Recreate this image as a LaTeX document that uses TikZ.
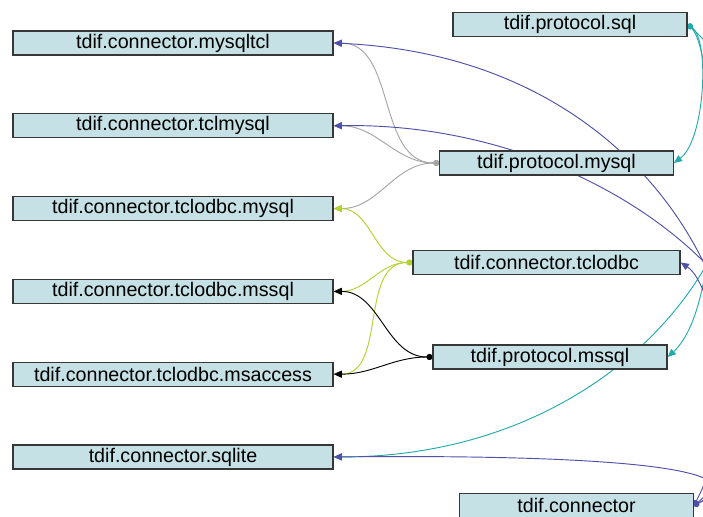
\documentclass[tikz,border=0pt]{standalone}
\usepackage{fontspec}
\setmainfont{Liberation Sans}
\usetikzlibrary{arrows.meta,positioning}

\definecolor{boxfill}{RGB}{197,225,229}
\definecolor{boxline}{RGB}{55,55,55}
\definecolor{edgegray}{RGB}{165,165,165}
\definecolor{edgegreen}{RGB}{180,210,45}
\definecolor{edgeteal}{RGB}{35,170,170}
\definecolor{edgeblue}{RGB}{80,80,170}

\pgfdeclarelayer{background}
\pgfsetlayers{background,main}

\begin{document}
\begin{tikzpicture}[
    x=0.03cm, y=-0.03cm,
    node distance=1.725cm,
    every node/.style={font=\fontsize{16.8}{20}\selectfont},
    box/.style={rectangle, draw=boxline, fill=boxfill, line width=1.1pt, minimum height=0.72cm, inner sep=2pt, text centered},
    leftbox/.style={box, minimum width=9.6cm},
    dep/.style={{Circle[length=5pt]}-{Triangle[length=7pt,width=6pt]}, line width=0.8pt},
    grayedge/.style={dep, color=edgegray},
    greenedge/.style={dep, color=edgegreen},
    blackedge/.style={dep, color=black},
    tealedge/.style={dep, color=edgeteal},
    blueedge/.style={dep, color=edgeblue}
]
\useasboundingbox (0,0) rectangle (703,517);

% Connectors (left)
\node[leftbox] at (173,43) (conn-mysqltcl) {tdif.connector.mysqltcl};
\node[leftbox, below=of conn-mysqltcl] (conn-tclmysql) {tdif.connector.tclmysql};
\node[leftbox, below=of conn-tclmysql] (conn-tclodbc-mysql) {tdif.connector.tclodbc.mysql};
\node[leftbox, below=of conn-tclodbc-mysql] (conn-tclodbc-mssql) {tdif.connector.tclodbc.mssql};
\node[leftbox, below=of conn-tclodbc-mssql] (conn-tclodbc-msaccess) {tdif.connector.tclodbc.msaccess};
\node[leftbox, below=of conn-tclodbc-msaccess] (conn-sqlite) {tdif.connector.sqlite};

% Protocols and base classes (right)
\node[box, minimum width=7.02cm] at (570,24.5) (proto-sql) {tdif.protocol.sql};
\node[box, minimum width=7cm] at (556.5,163) (proto-mysql) {tdif.protocol.mysql};
\node[box, minimum width=8.01cm] at (546.5,262.5) (conn-tclodbc) {tdif.connector.tclodbc};
\node[box, minimum width=7.02cm] at (550,357) (proto-mssql) {tdif.protocol.mssql};
\node[box, minimum width=7cm] at (576.5,505.5) (connector) {tdif.connector};

\begin{pgfonlayer}{background}
% mysql protocol
\draw[grayedge] (proto-mysql.west) to[out=180, in=0] (conn-mysqltcl.east);
\draw[grayedge] (proto-mysql.west) to[out=180, in=0] (conn-tclmysql.east);
\draw[grayedge] (proto-mysql.west) to[out=180, in=0] (conn-tclodbc-mysql.east);

% tclodbc
\draw[greenedge] (conn-tclodbc.west) to[out=180, in=0] (conn-tclodbc-mysql.east);
\draw[greenedge] (conn-tclodbc.west) to[out=180, in=0] (conn-tclodbc-mssql.east);
\draw[greenedge] (conn-tclodbc.west) to[out=180, in=0] (conn-tclodbc-msaccess.east);

% mssql protocol
\draw[blackedge] (proto-mssql.west) to[out=180, in=0] (conn-tclodbc-mssql.east);
\draw[blackedge] (proto-mssql.west) to[out=180, in=0] (conn-tclodbc-msaccess.east);

% sql protocol
\draw[tealedge] (proto-sql.east) .. controls (710,40) and (705,140) .. (proto-mysql.east);
\draw[tealedge] (proto-sql.east) .. controls (715,50) and (730,300) .. (proto-mssql.east);
\draw[tealedge] (proto-sql.east) .. controls (830,150) and (670,457) .. (conn-sqlite.east);

% base connector
\draw[blueedge] (connector.east) .. controls (800,420) and (710,60) .. (conn-mysqltcl.east);
\draw[blueedge] (connector.east) .. controls (900,400) and (660,120) .. (conn-tclmysql.east);
\draw[blueedge] (connector.east) .. controls (740,420) and (715,285) .. (conn-tclodbc.east);
\draw[blueedge] (connector.east) .. controls (780,460) and (520,455) .. (conn-sqlite.east);
\end{pgfonlayer}

\end{tikzpicture}
\end{document}
